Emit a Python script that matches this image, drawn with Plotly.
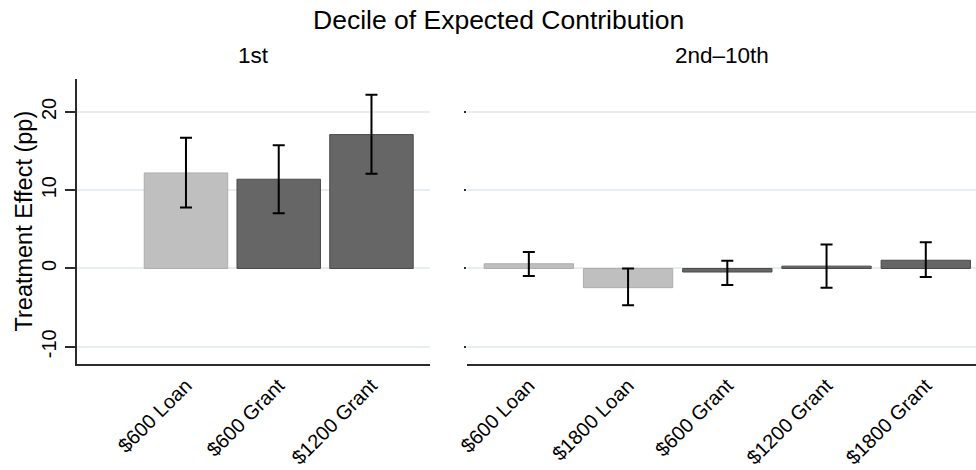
import plotly.graph_objects as go

# ---- data ----
left_categories = ["$600 Loan", "$600 Grant", "$1200 Grant"]
left_effects = [12.2, 11.4, 17.1]
left_upper = [16.7, 15.75, 22.2]
left_lower = [7.8, 7.05, 12.1]

right_categories = ["$600 Loan", "$1800 Loan", "$600 Grant", "$1200 Grant", "$1800 Grant"]
right_effects = [0.6, -2.45, -0.45, 0.3, 1.05]
right_upper = [2.1, 0.0, 1.0, 3.05, 3.35]
right_lower = [-0.95, -4.7, -2.1, -2.45, -1.1]

panel_titles = ["1st", "2nd\u201310th"]
main_title = "Decile of Expected Contribution"
y_title = "Treatment Effect (pp)"
y_ticks = [-10, 0, 10, 20]
y_tick_labels = ["-10", "0", "10", "20"]

# ---- styles ----
W, H = 976, 470
FONT = "Liberation Sans, Arial, Helvetica, sans-serif"
LIGHT, LIGHT_EDGE = "#bfbfbf", "#adadad"
DARK, DARK_EDGE = "#666666", "#4a4a4a"
GRID = "#e7eef1"
AXIS = "#2b2b2b"


def colors(cats):
    return [LIGHT if "Loan" in c else DARK for c in cats]


def edges(cats):
    return [LIGHT_EDGE if "Loan" in c else DARK_EDGE for c in cats]


def bar(cats, eff, up, lo, xa, ya):
    return go.Bar(
        x=cats, y=eff, xaxis=xa, yaxis=ya, width=0.9,
        marker=dict(color=colors(cats), line=dict(color=edges(cats), width=1)),
        error_y=dict(type="data", symmetric=False,
                     array=[u - e for u, e in zip(up, eff)],
                     arrayminus=[e - l for e, l in zip(eff, lo)],
                     color="black", thickness=2, width=6),
        showlegend=False, hoverinfo="skip",
    )


fig = go.Figure()
fig.add_trace(bar(left_categories, left_effects, left_upper, left_lower, "x", "y"))
fig.add_trace(bar(right_categories, right_effects, right_upper, right_lower, "x2", "y2"))

ydom = [1 - 364 / H, 1 - 79 / H]
yrange = [-12.2, 24.2]
xtick_font = dict(family=FONT, size=20, color="black")

fig.update_layout(
    width=W, height=H, margin=dict(l=0, r=0, t=0, b=0),
    paper_bgcolor="white", plot_bgcolor="white",
    font=dict(family=FONT, color="black"),
    bargap=0.1,
    xaxis=dict(domain=[77 / W, 430 / W], anchor="y", range=[-1.175, 2.631],
               showline=True, linecolor=AXIS, linewidth=2, ticks="",
               tickangle=-45, tickfont=xtick_font, showgrid=False,
               automargin=False, fixedrange=True),
    yaxis=dict(domain=ydom, anchor="x", range=yrange,
               tickvals=y_ticks, ticktext=y_tick_labels,
               showline=True, linecolor=AXIS, linewidth=2,
               ticks="outside", ticklen=10, tickwidth=1.5, tickcolor=AXIS,
               tickangle=-90, tickfont=dict(family=FONT, size=20, color="black"),
               ticklabelstandoff=1,
               showgrid=True, gridcolor=GRID, gridwidth=2, zeroline=False,
               automargin=False, fixedrange=True),
    xaxis2=dict(domain=[467 / W, 1.0], anchor="y2", range=[-0.623, 4.506],
                showline=True, linecolor=AXIS, linewidth=2, ticks="",
                tickangle=-45, tickfont=xtick_font, showgrid=False,
                automargin=False, fixedrange=True),
    yaxis2=dict(domain=ydom, anchor="x2", range=yrange, tickvals=y_ticks,
                showline=False, ticks="outside", ticklen=2, tickwidth=1.5,
                tickcolor=AXIS, showticklabels=False,
                showgrid=True, gridcolor=GRID, gridwidth=2, zeroline=False,
                automargin=False, fixedrange=True),
    annotations=[
        dict(text=main_title, x=498 / W, y=1 - 20 / H, xref="paper", yref="paper",
             showarrow=False, xanchor="center", yanchor="middle",
             font=dict(family=FONT, size=26.5, color="black")),
        dict(text=panel_titles[0], x=(77 + 430) / 2 / W, y=1 - 55 / H,
             xref="paper", yref="paper", showarrow=False,
             xanchor="center", yanchor="middle",
             font=dict(family=FONT, size=22.5, color="black")),
        dict(text=panel_titles[1], x=(467 + 976) / 2 / W, y=1 - 55 / H,
             xref="paper", yref="paper", showarrow=False,
             xanchor="center", yanchor="middle",
             font=dict(family=FONT, size=22.5, color="black")),
        dict(text=y_title, x=23 / W, y=(ydom[0] + ydom[1]) / 2,
             xref="paper", yref="paper", showarrow=False, textangle=-90,
             xanchor="center", yanchor="middle",
             font=dict(family=FONT, size=23.5, color="black")),
    ],
)

fig.write_html("out.html", config={"displayModeBar": False},
               post_script="document.body.style.margin='0';"
                           "document.body.style.overflow='hidden';")
